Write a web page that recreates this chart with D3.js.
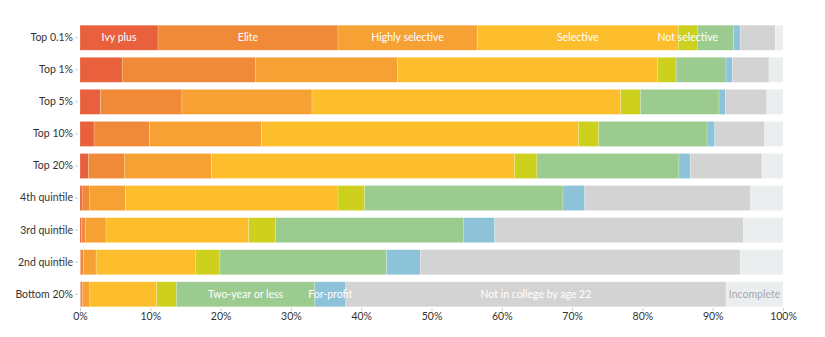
<!DOCTYPE html>
<html><head><meta charset="utf-8">
<script src="https://cdn.jsdelivr.net/npm/d3@7"></script>
<style>
body{margin:0;background:#fff;}
text{font-family:Lato,"Open Sans","DejaVu Sans",sans-serif;}
</style></head>
<body><div id="chart"></div>
<script>
const groups = ["Top 0.1%","Top 1%","Top 5%","Top 10%","Top 20%","4th quintile","3rd quintile","2nd quintile","Bottom 20%"];
const categories = ["Ivy plus","Elite","Highly selective","Selective","Not selective","Two-year or less","For-profit","Not in college by age 22","Incomplete"];
const colors = ["#e8603c","#f08a38","#f6a134","#fdbe2e","#cdd01c","#9ccb90","#8cc3d9","#d3d3d3","#ebeeef"];
// cumulative end positions (%) per group, per category
const cumulative = [
  [11.1,36.7,56.5,85.1,87.8,93.0,93.9,98.9,100],
  [6.0,25.0,45.2,82.2,84.8,91.9,92.8,98.0,100],
  [2.9,14.5,33.0,76.9,79.7,90.9,91.8,97.7,100],
  [2.0,9.9,25.8,70.9,73.8,89.2,90.3,97.4,100],
  [1.2,6.3,18.7,61.8,65.0,85.2,86.8,97.0,100],
  [0.3,1.4,6.5,36.7,40.5,68.7,71.8,95.4,100],
  [0.2,0.8,3.7,24.0,27.8,54.6,59.0,94.4,100],
  [0.1,0.5,2.3,16.4,19.9,43.6,48.4,93.9,100],
  [0.1,0.4,1.4,10.9,13.7,33.4,37.8,91.9,100]
];
// row in which each category's label is shown
const labelRow = [0,0,0,0,0,8,8,8,8];
const tickValues = [0,10,20,30,40,50,60,70,80,90,100];

const W = 825, H = 337;
const svg = d3.select("#chart").append("svg").attr("width",W).attr("height",H);
const x = d3.scaleLinear().domain([0,100]).range([80,783]);
const y = d3.scaleBand().domain(groups).range([22,310]).paddingInner(0.22).paddingOuter(0.1);

groups.forEach((g,i)=>{
  const row = svg.append("g");
  cumulative[i].forEach((end,j)=>{
    const start = j===0?0:cumulative[i][j-1];
    row.append("rect")
      .attr("x",x(start)).attr("y",y(g))
      .attr("width",Math.max(0,x(end)-x(start))).attr("height",y.bandwidth())
      .attr("fill",colors[j])
      .attr("stroke","rgba(255,255,255,0.35)").attr("stroke-width",0.6);
  });
});

categories.forEach((c,j)=>{
  const i = labelRow[j];
  const start = j===0?0:cumulative[i][j-1];
  const end = cumulative[i][j];
  svg.append("text")
    .attr("x",(x(start)+x(end))/2).attr("y",y(groups[i])+y.bandwidth()/2)
    .attr("dy","0.35em").attr("text-anchor","middle")
    .attr("font-size",10.5)
    .attr("fill", c==="Incomplete" ? "#a8a8a8" : "#ffffff")
    .text(c);
});

const yAxis = d3.axisLeft(y).tickSize(3).tickPadding(2);
const ya = svg.append("g").attr("transform","translate(78,0)").call(yAxis);
ya.select(".domain").remove();
ya.selectAll("line").attr("stroke","#ccc");
ya.selectAll("text").attr("font-size",10.5).attr("fill","#333");

const xAxis = d3.axisBottom(x).tickValues(tickValues).tickFormat(d=>d+"%").tickSize(3).tickPadding(2);
const xa = svg.append("g").attr("transform","translate(0,308)").call(xAxis);
xa.select(".domain").remove();
xa.selectAll("line").attr("stroke","#ccc");
xa.selectAll("text").attr("font-size",10.5).attr("fill","#333");
</script>
</body></html>
